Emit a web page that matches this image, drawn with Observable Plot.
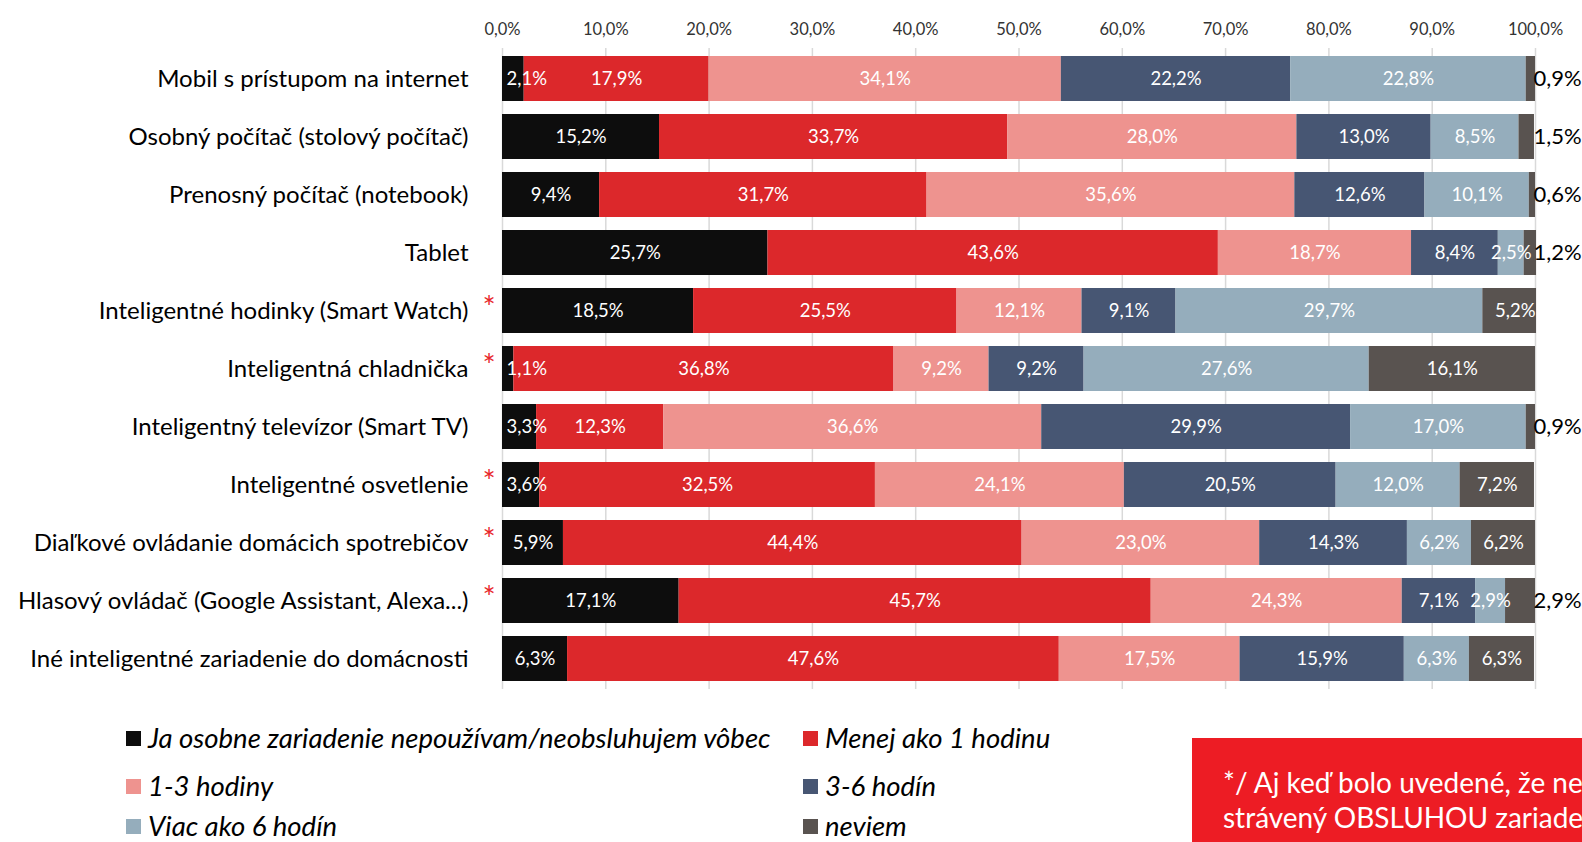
<!DOCTYPE html>
<html>
<head>
<meta charset="utf-8">
<script src="https://cdn.jsdelivr.net/npm/d3@7"></script>
<script src="https://cdn.jsdelivr.net/npm/@observablehq/plot@0.6"></script>
<style>
  html, body { margin: 0; padding: 0; background: #ffffff; }
  #wrap { position: relative; width: 1582px; height: 842px; overflow: hidden; font-family: Lato, "Open Sans", sans-serif; }
  #chart { position: absolute; left: 0; top: 0; }
  .lg { position: absolute; display: flex; align-items: center; font-style: italic; font-size: 27.5px; color: #000; white-space: nowrap; height: 30px; line-height: 30px; }
  .lg .sw { width: 15px; height: 15px; margin-right: 7px; flex: none; }
  #note { position: absolute; left: 1192px; top: 738px; width: 390px; height: 104px; background: #ed1c24; color: #fff; overflow: hidden; font-size: 28px; }
  #note div { position: absolute; left: 31px; white-space: nowrap; line-height: 34px; }
</style>
</head>
<body>
<div id="wrap">
  <div id="chart"></div>
  <div id="legend"></div>
  <div id="note">
    <div style="top:27px">*/ Aj keď bolo uvedené, že nepoužívajú zariadenie, bol uvedený aj čas</div>
    <div style="top:62px">strávený OBSLUHOU zariadenia</div>
  </div>
</div>
<script>
// ---- Data ----
const categories = [
  "Mobil s prístupom na internet",
  "Osobný počítač (stolový počítač)",
  "Prenosný počítač (notebook)",
  "Tablet",
  "Inteligentné hodinky (Smart Watch)",
  "Inteligentná chladnička",
  "Inteligentný televízor (Smart TV)",
  "Inteligentné osvetlenie",
  "Diaľkové ovládanie domácich spotrebičov",
  "Hlasový ovládač (Google Assistant, Alexa...)",
  "Iné inteligentné zariadenie do domácnosti"
];
const starred = [false, false, false, false, true, true, false, true, true, true, false];

const seriesNames = [
  "Ja osobne zariadenie nepoužívam/neobsluhujem vôbec",
  "Menej ako 1 hodinu",
  "1-3 hodiny",
  "3-6 hodín",
  "Viac ako 6 hodín",
  "neviem"
];
const seriesColors = ["#0d0d0d", "#dc282b", "#ee938f", "#475673", "#95adbc", "#595350"];

const nepouzivam = [2.1, 15.2, 9.4, 25.7, 18.5, 1.1, 3.3, 3.6, 5.9, 17.1, 6.3];
const menejAko1 = [17.9, 33.7, 31.7, 43.6, 25.5, 36.8, 12.3, 32.5, 44.4, 45.7, 47.6];
const hodiny1to3 = [34.1, 28.0, 35.6, 18.7, 12.1, 9.2, 36.6, 24.1, 23.0, 24.3, 17.5];
const hodin3to6 = [22.2, 13.0, 12.6, 8.4, 9.1, 9.2, 29.9, 20.5, 14.3, 7.1, 15.9];
const viacAko6 = [22.8, 8.5, 10.1, 2.5, 29.7, 27.6, 17.0, 12.0, 6.2, 2.9, 6.3];
const neviem = [0.9, 1.5, 0.6, 1.2, 5.2, 16.1, 0.9, 7.2, 6.2, 2.9, 6.3];

const xTicks = [0, 10, 20, 30, 40, 50, 60, 70, 80, 90, 100];

// ---- Build stacked table ----
const seriesValues = [nepouzivam, menejAko1, hodiny1to3, hodin3to6, viacAko6, neviem];
const table = [];
categories.forEach((cat, i) => {
  let cum = 0;
  seriesValues.forEach((vals, j) => {
    const v = vals[i];
    table.push({cat, series: seriesNames[j], j, value: v, x1: cum, x2: cum + v, mid: cum + v / 2});
    cum += v;
  });
});
const fmt = v => v.toFixed(1).replace(".", ",") + "%";
const last = seriesNames.length - 1;

const outside = table.filter(d => d.j === last && d.value < 3);
const startLabels = table.filter(d => d.j === 0 && d.value < 4);
const endLabels = table.filter(d => d.j === last && d.value >= 3 && d.value < 5.5);
const centerLabels = table.filter(d => !outside.includes(d) && !startLabels.includes(d) && !endLabels.includes(d));

const chart = Plot.plot({
  width: 1582,
  height: 691,
  marginLeft: 502,
  marginRight: 47,
  marginTop: 48,
  marginBottom: 2,
  style: {fontFamily: "Lato, 'Open Sans', sans-serif", background: "white", overflow: "visible"},
  x: {domain: [0, 100]},
  y: {domain: categories, paddingInner: 0.23, paddingOuter: 0.1},
  color: {domain: seriesNames, range: seriesColors},
  marks: [
    Plot.gridX(xTicks, {stroke: "#d9d9d9", strokeOpacity: 1, strokeWidth: 1.5}),
    Plot.axisX(xTicks, {anchor: "top", tickSize: 0, tickPadding: 14, fontSize: 16.5, color: "#333",
      tickFormat: d => d.toFixed(1).replace(".", ",") + "%", label: null}),
    Plot.axisY({anchor: "left", tickSize: 0, tickPadding: 34, fontSize: 24, color: "#000", label: null}),
    Plot.barX(table, {x1: "x1", x2: "x2", y: "cat", fill: "series"}),
    Plot.text(centerLabels, {x: "mid", y: "cat", text: d => fmt(d.value), fill: "white", fontSize: 18.5}),
    Plot.text(startLabels, {x: "x1", y: "cat", text: d => fmt(d.value), fill: "white", fontSize: 18.5, textAnchor: "start", dx: 4}),
    Plot.text(endLabels, {x: "x2", y: "cat", text: d => fmt(d.value), fill: "white", fontSize: 18.5, textAnchor: "end", dx: -1}),
    Plot.text(outside, {x: () => 100, y: "cat", text: d => fmt(d.value), fill: "black", fontSize: 22, textAnchor: "start", dx: -2}),
    Plot.text(categories.filter((c, i) => starred[i]), {y: d => d, frameAnchor: "left", text: () => "*", fill: "#e8262b", fontSize: 31, dx: -20, dy: -3})
  ]
});
document.getElementById("chart").appendChild(chart);

// ---- Legend ----
const legend = document.getElementById("legend");
const colLeft = [126, 803];
const rowCenter = [738, 786, 826];
seriesNames.forEach((name, j) => {
  const el = document.createElement("div");
  el.className = "lg";
  el.style.left = colLeft[j % 2] + "px";
  el.style.top = (rowCenter[Math.floor(j / 2)] - 15) + "px";
  const sw = document.createElement("span");
  sw.className = "sw";
  sw.style.background = seriesColors[j];
  const tx = document.createElement("span");
  tx.textContent = name;
  el.appendChild(sw);
  el.appendChild(tx);
  legend.appendChild(el);
});
</script>
</body>
</html>
